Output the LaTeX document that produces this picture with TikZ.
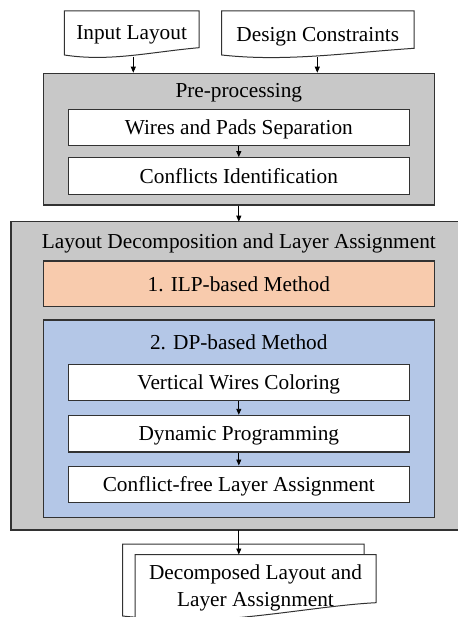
\documentclass[tikz,border=0pt]{standalone}
\usepackage{fontspec}
\setmainfont{Liberation Serif}
\usetikzlibrary{arrows.meta}
\definecolor{panelgray}{RGB}{200,200,200}
\definecolor{ilpfill}{RGB}{248,203,173}
\definecolor{dpfill}{RGB}{180,199,231}
\definecolor{edge}{RGB}{50,50,50}
\begin{document}
\begin{tikzpicture}[x=1pt,y=-1pt,
  every node/.style={font=\fontsize{21.3}{27}\selectfont,text depth=0pt},
  panel/.style={draw=edge,line width=1.3pt,fill=panelgray,inner sep=0pt},
  stepbox/.style={draw=edge,line width=1.3pt,fill=white,minimum width=341pt,minimum height=36.5pt,inner sep=0pt},
  method/.style={draw=edge,line width=1.3pt,inner sep=0pt,minimum width=391pt},
  docline/.style={draw=edge,line width=1pt,fill=white},
  flow/.style={draw=black,line width=0.9pt,-{Triangle[length=6pt,width=5pt]}},
  title/.style={inner sep=0pt,anchor=center}]
\useasboundingbox (0,0) rectangle (457,617);

% input documents
\path[docline] (64.3,11) -- (199,11) -- (199,47.7)
  .. controls (150,52) and (110,62) .. (64.3,55) -- cycle;
\node[title] (inlay) at (131.6,33) {Input Layout};
\coordinate (inlayout) at (133.3,56.8);
\path[docline] (221.7,11) -- (414,11) -- (414,48.3)
  .. controls (345,53) and (285,62) .. (221.7,55) -- cycle;
\node[title] (dcons) at (317.8,34) {Design Constraints};
\coordinate (dconsout) at (317.3,57.2);

% pre-processing panel
\node[panel,minimum width=391pt,minimum height=131.7pt] (pre) at (238.8,139.2) {};
\node[title] (pretitle) at (238.8,90) {Pre-processing};
\node[stepbox] (wires) at (238.8,127.5) {Wires and Pads Separation};
\node[stepbox] (confl) at (238.8,176) {Conflicts Identification};

% decomposition panel
\path[panel] (11,221.7) rectangle (470,530);
\coordinate (ldtop) at (238.8,221.7);
\coordinate (ldbot) at (238.8,530);
\node[title] (ldtitle) at (238.8,240.7) {Layout Decomposition and Layer Assignment};
\node[method,fill=ilpfill,minimum height=45.7pt] (ilp) at (238.8,283.8) {1. ILP-based Method};
\node[method,fill=dpfill,minimum height=197.3pt] (dp) at (238.8,418.7) {};
\node[title] (dptitle) at (238.8,341.7) {2. DP-based Method};
\node[stepbox] (vwc) at (238.8,382.5) {Vertical Wires Coloring};
\node[stepbox] (dyn) at (238.8,433.7) {Dynamic Programming};
\node[stepbox] (cfla) at (238.8,484.4) {Conflict-free Layer Assignment};

% output documents
\path[docline] (122.7,544) -- (364,544) -- (364,600)
  .. controls (300,604) and (200,625) .. (122.7,616) -- cycle;
\path[docline] (135,554.5) -- (376,554.5) -- (376,602.7)
  .. controls (310,606) and (215,628) .. (135,618) -- cycle;
\coordinate (outtop) at (238.8,554.5);
\node[title,align=center] (outdoc) at (255.5,586) {Decomposed Layout and\\Layer Assignment};

% connectors
\draw[flow] (inlayout) -- (inlayout |- pre.north);
\draw[flow] (dconsout) -- (dconsout |- pre.north);
\draw[flow] (wires) -- (confl);
\draw[flow] (pre.south) -- (ldtop);
\draw[flow] (vwc) -- (dyn);
\draw[flow] (dyn) -- (cfla);
\draw[flow] (ldbot) -- (outtop);
\end{tikzpicture}
\end{document}
